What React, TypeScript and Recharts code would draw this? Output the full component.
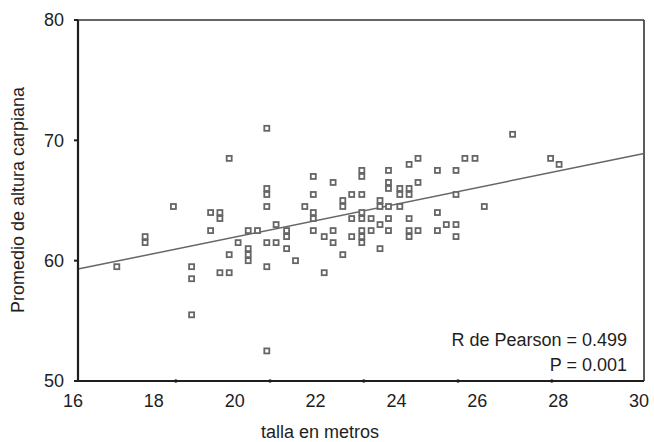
import { ScatterChart, Scatter, XAxis, YAxis, ReferenceLine, ReferenceDot } from 'recharts';

// talla (x) y promedio de altura carpiana (y)
const talla = [
  16.96, 17.66, 17.66, 18.36, 18.81, 18.81, 18.81, 19.28, 19.28, 19.51,
  19.51, 19.51, 19.74, 19.74, 19.74, 19.96, 20.21, 20.21, 20.21, 20.21,
  20.44, 20.67, 20.67, 20.67, 20.67, 20.67, 20.67, 20.67, 20.9, 20.9,
  21.16, 21.16, 21.16, 21.38, 21.61, 21.82, 21.82, 21.82, 21.82, 21.82,
  22.09, 22.09, 22.31, 22.31, 22.31, 22.55, 22.55, 22.55, 22.77, 22.77,
  22.77, 23.02, 23.02, 23.02, 23.02, 23.02, 23.02, 23.02, 23.02, 23.25,
  23.25, 23.47, 23.47, 23.47, 23.47, 23.68, 23.68, 23.68, 23.68, 23.68,
  23.68, 23.96, 23.96, 23.96, 24.19, 24.19, 24.19, 24.19, 24.19, 24.19,
  24.41, 24.41, 24.41, 24.89, 24.89, 24.89, 25.11, 25.35, 25.35, 25.35,
  25.35, 25.57, 25.82, 26.05, 26.75, 27.69, 27.9,
];
const altura = [
  59.5, 62, 61.5, 64.5, 59.5, 58.5, 55.5, 64, 62.5, 64,
  63.5, 59, 68.5, 60.5, 59, 61.5, 62.5, 61, 60.5, 60,
  62.5, 71, 66, 65.5, 64.5, 61.5, 59.5, 52.5, 63, 61.5,
  62.5, 62, 61, 60, 64.5, 67, 65.5, 64, 63.5, 62.5,
  62, 59, 66.5, 62.5, 61.5, 65, 64.5, 60.5, 65.5, 63.5,
  62, 67.5, 67, 65.5, 64, 63.5, 62.5, 62, 61.5, 63.5,
  62.5, 65, 64.5, 63, 61, 67.5, 66.5, 66, 64.5, 63.5,
  62.5, 66, 65.5, 64.5, 68, 66, 65.5, 63.5, 62.5, 62,
  68.5, 66.5, 62.5, 67.5, 64, 62.5, 63, 67.5, 65.5, 63,
  62, 68.5, 68.5, 64.5, 70.5, 68.5, 68,
];

const xTicks = [16, 18, 20, 22, 24, 26, 28, 30];
const yTicks = [50, 60, 70, 80];
// marcas del eje x (no coinciden con las etiquetas en el original)
const xMarks = [18.42, 20.75, 23.07, 25.4, 27.72];
// recta de regresión, extremos
const regresion = [
  { x: 16, y: 59.3 },
  { x: 30, y: 68.9 },
];

const puntos = talla.map((x, i) => ({ x, y: altura[i] }));

const ink = '#1e1e1e';
const font = '"Liberation Sans", Arial, sans-serif';
const fs = 18;

function Cuadro(props: any) {
  const { cx, cy } = props;
  return (
    <rect x={cx - 2.5} y={cy - 2.5} width={5} height={5} fill="#fff" stroke="#666" strokeWidth={1.8} />
  );
}

export default function App() {
  return (
    <div style={{ position: 'absolute', left: 0, top: 0, width: 654, height: 442, background: '#fff', fontFamily: font }}>
      <ScatterChart width={654} height={442} margin={{ top: 20, right: 10, bottom: 31, left: 0 }}>
        <XAxis
          type="number"
          dataKey="x"
          domain={[16, 30]}
          ticks={xTicks}
          tickLine={false}
          tickSize={4}
          tickMargin={9}
          height={30}
          axisLine={{ stroke: ink, strokeWidth: 2.2 }}
          tick={{ fill: ink, fontSize: fs, dx: -5 }}
        />
        <YAxis
          type="number"
          dataKey="y"
          domain={[50, 80]}
          ticks={yTicks}
          width={78}
          tickSize={4}
          tickMargin={10}
          axisLine={{ stroke: ink, strokeWidth: 2.2 }}
          tickLine={{ stroke: ink, strokeWidth: 2 }}
          tick={{ fill: ink, fontSize: fs }}
        />
        <ReferenceLine y={80} stroke="#333" strokeWidth={1.6} />
        <ReferenceLine x={30} stroke="#333" strokeWidth={1.6} />
        {xMarks.map((m) => (
          <ReferenceDot key={m} x={m} y={50} r={1.8} fill={ink} stroke="none" />
        ))}
        <ReferenceLine segment={regresion} stroke="#666" strokeWidth={1.5} />
        <Scatter data={puntos} shape={Cuadro} isAnimationActive={false} />
      </ScatterChart>
      <svg width={654} height={442} style={{ position: 'absolute', left: 0, top: 0, pointerEvents: 'none' }}>
        <text x={320} y={438} textAnchor="middle" fontSize={fs} fill={ink}>talla en metros</text>
        <text transform="translate(24,200) rotate(-90)" textAnchor="middle" fontSize={fs} fill={ink}>
          Promedio de altura carpiana
        </text>
        <text x={627} y={346} textAnchor="end" fontSize={fs} fill={ink}>R de Pearson = 0.499</text>
        <text x={627} y={371} textAnchor="end" fontSize={fs} fill={ink}>P = 0.001</text>
      </svg>
    </div>
  );
}
